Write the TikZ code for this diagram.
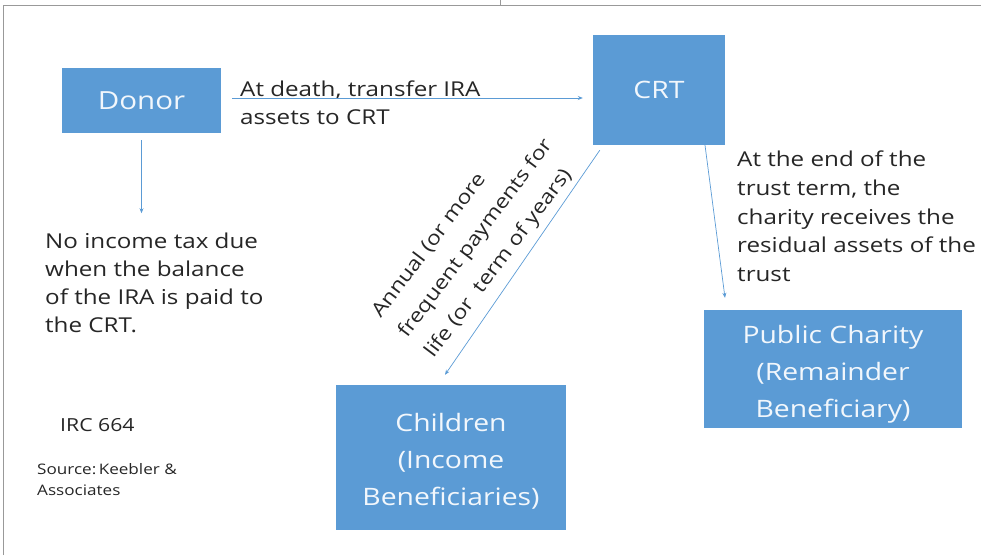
\documentclass[tikz,border=0pt]{standalone}
\usepackage{fontspec}
\setmainfont{Open Sans}[FakeStretch=1.18]
\usetikzlibrary{arrows.meta,positioning,calc}
\definecolor{crtblue}{RGB}{91,155,213}
\definecolor{crttext}{RGB}{38,38,38}
\newcommand{\boxlines}[1]{\raisebox{-4pt}[\height][\depth]{\begin{tabular}{@{}c@{}}#1\end{tabular}}}

\begin{document}
\begin{tikzpicture}[
  x=1pt, y=1pt,
  party/.style={draw=none, fill=crtblue, text=white!92!crtblue, align=center,
               inner sep=0pt, font=\fontsize{24}{37}\selectfont},
  note/.style={text=crttext, align=left, inner sep=0pt,
               font=\fontsize{20.5}{28}\selectfont},
  arr/.style={-{Stealth[length=5pt,width=4pt]}, crtblue, line width=0.7pt},
  frame/.style={draw=black!40, line width=1pt}
]
\useasboundingbox (0,0) rectangle (981,555);
\draw[frame] (3,0) -- (3,549) -- (981,549);
\draw[frame] (500,549) -- (500,555);

\node[party, minimum width=159, minimum height=65, font=\fontsize{25}{30}\selectfont] (donor) at (141.5,454.5) {Donor};
\node[party, minimum width=132, minimum height=110, font=\fontsize{24}{30}\selectfont] (crt) at (659,465) {CRT};
\node[party, minimum width=230, minimum height=145] (kids) at (451,97.5) {\boxlines{Children\\(Income\\Beneficiaries)}};
\node[party, minimum width=258, minimum height=118] (charity) at (833,186) {\boxlines{Public Charity\\(Remainder\\Beneficiary)}};

\node[note, anchor=north west] (transfer) at (240,474) {At death, transfer IRA\\assets to CRT};
\node[note, anchor=north west] (notax) at (45,322) {No income tax due\\when the balance\\of the IRA is paid to\\the CRT.};
\node[note, anchor=north west, font=\fontsize{20.5}{28.7}\selectfont] (residual) at (737,404) {At the end of the\\trust term, the\\charity receives the\\residual assets of the\\trust};
\node[note, rotate=53, font=\fontsize{19.5}{33}\selectfont] (payments) at (476,316) {Annual (or more\\frequent payments for\\life (or \ term of years)};
\node[text=crttext, anchor=west, inner sep=0pt, font=\fontsize{18}{20}\selectfont] (irc) at (60,130) {IRC 664};
\node[text=crttext, anchor=north west, inner sep=0pt, align=left,
      font=\fontsize{14.5}{21}\selectfont] (source) at (37,92) {Source:\,Keebler \&\\Associates};

\draw[arr] ([xshift=11pt,yshift=2.5pt]donor.east) -- ([xshift=-10pt,yshift=-8pt]crt.west);
\draw[arr] ([yshift=-7pt]donor.south) -- ([yshift=-80pt]donor.south);
\draw[arr] ([xshift=7pt,yshift=-5pt]crt.south west) -- ([xshift=-6pt,yshift=10pt]kids.north);
\draw[arr] ([xshift=46pt,yshift=0pt]crt.south) -- ([xshift=-108pt,yshift=12pt]charity.north);
\end{tikzpicture}
\end{document}
